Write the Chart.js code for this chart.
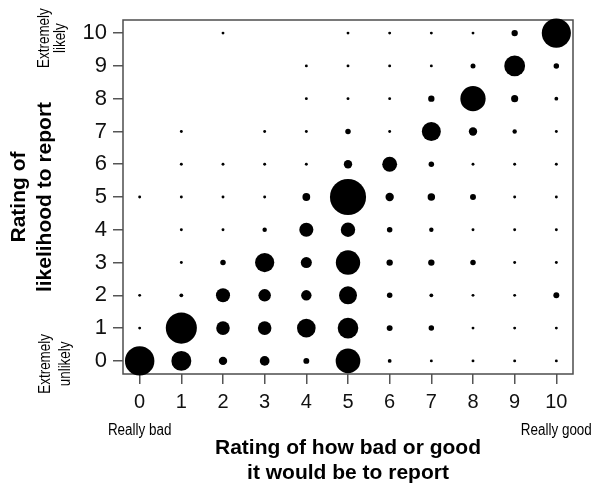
<!DOCTYPE html>
<html><head><meta charset="utf-8">
<script src="https://cdn.jsdelivr.net/npm/chart.js@4.4.1/dist/chart.umd.min.js"></script>
<style>html,body{margin:0;padding:0;background:#fff}</style>
</head><body>
<canvas id="c" width="600" height="486"></canvas>
<script>
// Ratings on each axis
const goodRatings = [0, 1, 2, 3, 4, 5, 6, 7, 8, 9, 10];
const likelyRatings = [0, 1, 2, 3, 4, 5, 6, 7, 8, 9, 10];
const xTickLabels = ['0', '1', '2', '3', '4', '5', '6', '7', '8', '9', '10'];
const yTickLabels = ['0', '1', '2', '3', '4', '5', '6', '7', '8', '9', '10'];

// Estimated counts: one array per likelihood rating, indexed by bad/good rating 0..10
const countsLikely0  = [186,  83, 13, 18,  6, 129,  2,  1,   1,  1,   1];
const countsLikely1  = [  1, 208, 37, 37, 72,  89,  6,  5,   1,  1,   1];
const countsLikely2  = [  1,   2, 40, 31, 21,  67,  5,  2,   1,  1,   6];
const countsLikely3  = [  0,   1,  5, 77, 24, 126,  7,  7,   5,  1,   1];
const countsLikely4  = [  0,   1,  1,  3, 40,  42,  5,  3,   1,  1,   1];
const countsLikely5  = [  1,   1,  1,  1, 11, 283, 13, 10,   6,  1,   1];
const countsLikely6  = [  0,   1,  1,  1,  1,  13, 45,  5,   1,  1,   1];
const countsLikely7  = [  0,   1,  0,  1,  1,   5,  1, 75,  13,  3,   1];
const countsLikely8  = [  0,   0,  0,  0,  1,   1,  1,  7, 136,  9,   2];
const countsLikely9  = [  0,   0,  0,  0,  1,   1,  1,  1,   4, 91,   5];
const countsLikely10 = [  0,   0,  1,  0,  0,   1,  1,  1,   1,  7, 182];

const countRows = [countsLikely0, countsLikely1, countsLikely2, countsLikely3, countsLikely4,
  countsLikely5, countsLikely6, countsLikely7, countsLikely8, countsLikely9, countsLikely10];

const points = [];
likelyRatings.forEach((yv, i) => {
  goodRatings.forEach((xv, j) => {
    const n = countRows[i][j];
    if (n > 0) points.push({ x: xv, y: yv, r: 0.4 + 1.05 * Math.sqrt(n) });
  });
});

const SANS = "'Liberation Sans', Arial, Helvetica, sans-serif";

function drawText(ctx, text, x, y, font, rotate, squeeze) {
  ctx.save();
  ctx.translate(x, y);
  if (rotate) ctx.rotate(-Math.PI / 2);
  if (squeeze) ctx.scale(squeeze, 1);
  ctx.font = font;
  ctx.textAlign = 'center';
  ctx.textBaseline = 'middle';
  ctx.fillText(text, 0, 0);
  ctx.restore();
}

const decor = {
  id: 'decor',
  beforeDatasetsDraw(chart) {
    const { ctx, chartArea: a } = chart;
    ctx.save();
    ctx.strokeStyle = '#4d4d4d';
    ctx.lineWidth = 1.5;
    ctx.strokeRect(a.left, a.top, a.right - a.left, a.bottom - a.top);
    ctx.restore();
  },
  afterDraw(chart) {
    const { ctx, chartArea: a, scales } = chart;
    const xs = scales.x, ys = scales.y;
    ctx.save();
    ctx.fillStyle = '#000';
    const bold = 'bold 21px ' + SANS;
    const small = '16px ' + SANS;
    // Y title
    const yMid = (a.top + a.bottom) / 2;
    drawText(ctx, 'Rating of', 19, yMid, bold, true);
    drawText(ctx, 'likelihood to report', 45, yMid, bold, true);
    // X title
    const xMid = (a.left + a.right) / 2;
    drawText(ctx, 'Rating of how bad or good', xMid, 448, bold);
    drawText(ctx, 'it would be to report', xMid, 473, bold);
    // Anchor labels
    drawText(ctx, 'Really bad', xs.getPixelForValue(goodRatings[0]), 431, small, false, 0.84);
    drawText(ctx, 'Really good', xs.getPixelForValue(goodRatings[goodRatings.length - 1]), 431, small, false, 0.84);
    const yTop = ys.getPixelForValue(likelyRatings[likelyRatings.length - 1]) + 5;
    drawText(ctx, 'Extremely', 45, yTop, small, true, 0.84);
    drawText(ctx, 'likely', 61, yTop, small, true, 0.84);
    const yBot = ys.getPixelForValue(likelyRatings[0]) + 3;
    drawText(ctx, 'Extremely', 46, yBot, small, true, 0.84);
    drawText(ctx, 'unlikely', 66, yBot, small, true, 0.84);
    ctx.restore();
  }
};

new Chart(document.getElementById('c'), {
  type: 'bubble',
  data: {
    datasets: [{
      data: points,
      backgroundColor: '#000',
      borderColor: '#000',
      borderWidth: 0,
      hoverBorderWidth: 0,
      clip: false
    }]
  },
  options: {
    responsive: false,
    devicePixelRatio: 1,
    animation: false,
    events: [],
    layout: { padding: { top: 20, right: 27, left: 0, bottom: 0 } },
    plugins: { legend: { display: false }, tooltip: { enabled: false } },
    scales: {
      x: {
        type: 'linear', min: -0.4, max: 10.4,
        afterBuildTicks: s => { s.ticks = goodRatings.map(v => ({ value: v })); },
        afterFit: s => { s.height = 112; },
        ticks: {
          callback: (v, i) => xTickLabels[i],
          font: { family: SANS, size: 20 }, color: '#111',
          padding: 6, autoSkip: false, maxRotation: 0
        },
        grid: { drawOnChartArea: false, drawTicks: true, tickLength: 10, color: '#555', lineWidth: 1.5 },
        border: { display: false }
      },
      y: {
        type: 'linear', min: -0.4, max: 10.4,
        afterBuildTicks: s => { s.ticks = likelyRatings.map(v => ({ value: v })); },
        afterFit: s => { s.width = 123; },
        ticks: {
          callback: (v, i) => yTickLabels[i],
          font: { family: SANS, size: 22 }, color: '#111',
          padding: 6, autoSkip: false
        },
        grid: { drawOnChartArea: false, drawTicks: true, tickLength: 10, color: '#555', lineWidth: 1.5 },
        border: { display: false }
      }
    }
  },
  plugins: [decor]
});
</script>
</body></html>
